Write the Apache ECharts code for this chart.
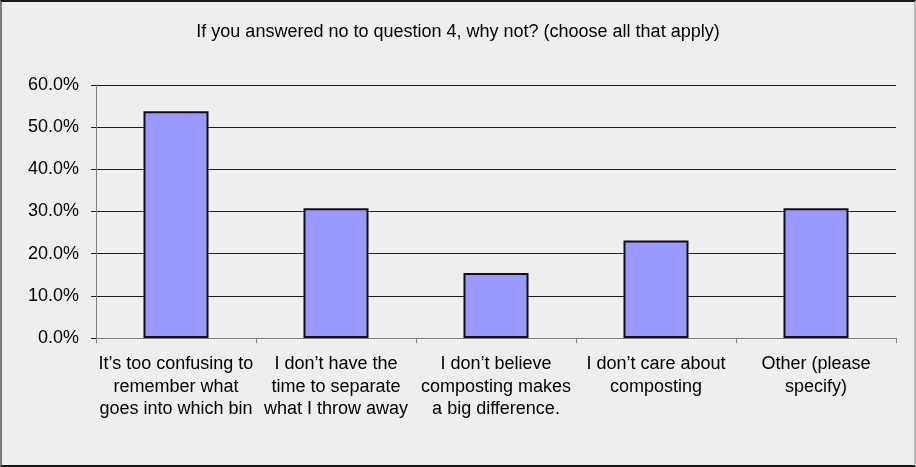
<!DOCTYPE html>
<html>
<head>
<meta charset="utf-8">
<script src="https://cdn.jsdelivr.net/npm/echarts@6/dist/echarts.min.js"></script>
<style>
  html, body { margin: 0; padding: 0; background: #eeeeee; }
  #frame {
    position: absolute; left: 0; top: 0;
    width: 912px; height: 463px;
    background: #eeeeee;
    border-top: 2px solid #1a1a1a;
    border-bottom: 2px solid #1a1a1a;
    border-left: 2px solid #7a7a7a;
    border-right: 2px solid #bdbdbd;
  }
  #chart { position: absolute; left: -2px; top: -2px; width: 916px; height: 467px; }
</style>
</head>
<body>
<div id="frame"><div id="chart"></div></div>
<script>
// Survey answers: share of respondents choosing each reason (percent)
const titleText = 'If you answered no to question 4, why not? (choose all that apply)';
const categories = [
  'It\u2019s too confusing to\nremember what\ngoes into which bin',
  'I don\u2019t have the\ntime to separate\nwhat I throw away',
  'I don\u2019t believe\ncomposting makes\na big difference.',
  'I don\u2019t care about\ncomposting',
  'Other (please\nspecify)'
];
const shares = [53.8, 30.8, 15.4, 23.1, 30.8];
const yTicks = { min: 0, max: 60, step: 10 };

const chart = echarts.init(document.getElementById('chart'), null, { renderer: 'canvas' });
const font = '"Liberation Sans", Arial, sans-serif';

chart.setOption({
  backgroundColor: 'transparent',
  animation: false,
  title: {
    text: titleText,
    left: 'center',
    top: 18,
    textStyle: { fontFamily: font, fontSize: 18, fontWeight: 'normal', color: '#000' }
  },
  grid: { left: 96, right: 20, top: 85, bottom: 129, containLabel: false },
  xAxis: {
    type: 'category',
    data: categories,
    boundaryGap: true,
    axisLine: { show: true, lineStyle: { color: '#808080', width: 1 } },
    axisTick: { show: true, alignWithLabel: false, length: 5, lineStyle: { color: '#808080' } },
    axisLabel: {
      interval: 0,
      margin: 15,
      fontFamily: font,
      fontSize: 18,
      lineHeight: 22.5,
      color: '#000',
      align: 'center'
    },
    splitLine: { show: false }
  },
  yAxis: {
    type: 'value',
    min: yTicks.min,
    max: yTicks.max,
    interval: yTicks.step,
    axisLine: { show: true, lineStyle: { color: '#808080', width: 1 } },
    axisTick: { show: true, length: 5, lineStyle: { color: '#222' } },
    axisLabel: {
      margin: 17,
      fontFamily: font,
      fontSize: 18,
      color: '#000',
      formatter: v => v.toFixed(1) + '%'
    },
    splitLine: { show: true, lineStyle: { color: '#1e1e1e', width: 1 } }
  },
  series: [{
    type: 'bar',
    data: shares,
    barWidth: 65,
    itemStyle: { color: '#9999ff', borderColor: '#111', borderWidth: 2 }
  }]
});
</script>
</body>
</html>
